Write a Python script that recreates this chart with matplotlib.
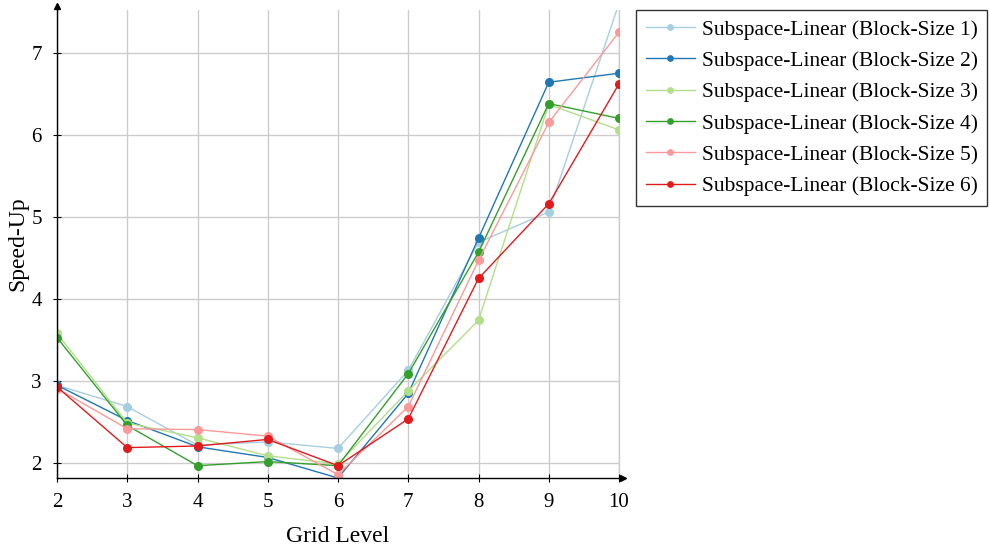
import numpy as np
import matplotlib.pyplot as plt

"""Data read off the reference"""
grid_level = [2, 3, 4, 5, 6, 7, 8, 9, 10]
bs1 = [2.95, 2.69, 2.22, 2.26, 2.18, 3.13, 4.69, 5.06, 7.60]
bs2 = [2.95, 2.52, 2.20, 2.07, 1.82, 2.85, 4.74, 6.64, 6.75]
bs3 = [3.58, 2.49, 2.31, 2.09, 1.99, 2.88, 3.74, 6.37, 6.06]
bs4 = [3.53, 2.46, 1.97, 2.02, 1.97, 3.09, 4.57, 6.38, 6.20]
bs5 = [2.91, 2.42, 2.41, 2.33, 1.86, 2.69, 4.47, 6.15, 7.25]
bs6 = [2.93, 2.19, 2.21, 2.29, 1.97, 2.54, 4.25, 5.16, 6.62]
series = [bs1, bs2, bs3, bs4, bs5, bs6]
labels = ["Subspace-Linear (Block-Size %d)" % i for i in range(1, 7)]
colors = ["#a6cee3", "#1f78b4", "#b2df8a", "#33a02c", "#fb9a99", "#e31a1c"]

plt.rcParams['font.family'] = ['Liberation Serif', 'DejaVu Serif']

fig = plt.figure(figsize=(9.9, 5.48), dpi=100)
ax = fig.add_axes([57/990, 70/548, (619-57)/990, (478-10)/548])

for y, lab, c in zip(series, labels, colors):
    ax.plot(grid_level, y, color=c, lw=1.0, marker='o', ms=5.5, label=lab)

ax.set_xlim(2, 10)
ax.set_ylim(1.82, 7.52)
ax.set_xticks(grid_level)
ax.set_yticks([2, 3, 4, 5, 6, 7])
ax.grid(True, color='#cccccc', lw=1)
ax.set_axisbelow(True)
# right-most vertical grid line (would be half clipped otherwise)
ax.axvline(10, color='#cccccc', lw=1, zorder=0.5, clip_on=False)

for s in ['top', 'right']:
    ax.spines[s].set_visible(False)
for s in ['left', 'bottom']:
    ax.spines[s].set_linewidth(1.0)
ax.tick_params(direction='inout', length=6, width=0.8, labelsize=15, pad=8)

# arrow heads at the axis ends
ax.plot(1.008, 0, marker='>', ms=5, color='black', transform=ax.transAxes, clip_on=False)
ax.plot(0, 1.008, marker='^', ms=5, color='black', transform=ax.transAxes, clip_on=False)

ax.set_xlabel("Grid Level", fontsize=17, labelpad=10)
ax.set_ylabel("Speed-Up", fontsize=17, labelpad=2)

leg = ax.legend(loc='upper left', bbox_to_anchor=(636/990, 538/548),
                bbox_transform=fig.transFigure, fontsize=15.5, frameon=True,
                fancybox=False, edgecolor='#333333', framealpha=1,
                markerscale=0.7, handlelength=2.3, handletextpad=0.3,
                borderaxespad=0, labelspacing=0.52, borderpad=0.45)
leg.get_frame().set_linewidth(1.0)

fig.savefig("out.png", dpi=100)
